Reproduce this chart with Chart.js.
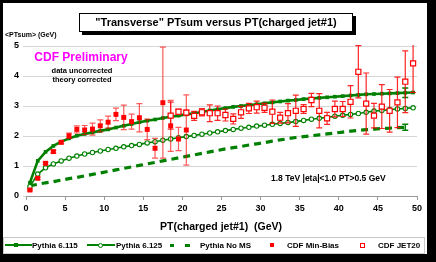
<!DOCTYPE html>
<html lang="en">

<head>
    <meta charset="UTF-8">
    <title>Transverse PTsum versus PT(charged jet#1)</title>
    <script src="https://cdn.jsdelivr.net/npm/chart.js"></script>
    <style>
        html, body { margin: 0; padding: 0; background: #000; }
        body { width: 436px; height: 262px; position: relative; overflow: hidden;
               font-family: "Liberation Sans", Arial, sans-serif; font-weight: bold; }
        .paper { position: absolute; left: 3px; top: 3px; width: 424px; height: 251px; background: #fff; }
        canvas { position: absolute; left: 0; top: 0; }
        .txt { position: absolute; white-space: nowrap; transform: translateY(-50%); line-height: 1; }
        .ctr { transform: translate(-50%, -50%); }
        .title-box { position: absolute; left: 79px; top: 13px; width: 272px; height: 17px;
                     border: 1px solid #000; background: #fff; box-shadow: 3px 3px 0 #000;
                     font-size: 11px; line-height: 17px; text-align: center; }
        .legend { position: absolute; left: 3px; top: 237px; width: 420px; height: 15px; border: 1px solid #c8c8c8; }
        .sym { position: absolute; box-sizing: border-box; }
    </style>
</head>

<body>
    <div class="paper"></div>
    <canvas id="ptChart" width="436" height="262"></canvas>

    <div class="title-box">"Transverse" PTsum versus PT(charged jet#1)</div>
    <div class="txt" style="left:5px;top:34px;font-size:7px;">&lt;PTsum&gt; (GeV)</div>
    <div class="txt ctr" style="left:81px;top:57px;font-size:12px;color:#ff00ff;">CDF Preliminary</div>
    <div class="txt ctr" style="left:82px;top:71px;font-size:7.5px;">data uncorrected</div>
    <div class="txt ctr" style="left:82px;top:80px;font-size:7.5px;">theory corrected</div>
    <div class="txt" style="left:271px;top:178px;font-size:8.5px;">1.8 TeV |eta|&lt;1.0 PT&gt;0.5 GeV</div>
    <div class="txt ctr" style="left:221px;top:226px;font-size:10.5px;">PT(charged jet#1)&nbsp;&nbsp;(GeV)</div>

    <div class="legend"></div>
    <!-- legend symbols -->
    <div class="sym" style="left:5px;top:244px;width:27px;height:2px;background:#008000;"></div>
    <div class="sym" style="left:14px;top:243px;width:4px;height:4px;background:#008000;"></div>
    <div class="sym" style="left:87px;top:244px;width:28px;height:1.5px;background:#008000;"></div>
    <div class="sym" style="left:98px;top:242.5px;width:5px;height:5px;border:1.2px solid #008000;border-radius:50%;background:#fff;"></div>
    <div class="sym" style="left:170px;top:243.5px;width:4px;height:3px;background:#008000;"></div>
    <div class="sym" style="left:185px;top:243.5px;width:5px;height:3px;background:#008000;"></div>
    <div class="sym" style="left:270px;top:243px;width:4px;height:4px;background:#ff0000;"></div>
    <div class="sym" style="left:360px;top:242.5px;width:5px;height:5px;border:1.2px solid #ff0000;background:#fff;"></div>
    <div class="txt" style="left:32px;top:245.5px;font-size:8px;">Pythia 6.115</div>
    <div class="txt" style="left:116px;top:245.5px;font-size:8px;">Pythia 6.125</div>
    <div class="txt" style="left:200px;top:245.5px;font-size:8px;">Pythia No MS</div>
    <div class="txt" style="left:287px;top:245.5px;font-size:8px;">CDF Min-Bias</div>
    <div class="txt" style="left:378px;top:245.5px;font-size:8px;">CDF JET20</div>

    <script>
        // bin centres of PT(charged jet#1), GeV
        const ptBins = [0.5, 1.5, 2.5, 3.5, 4.5, 5.5, 6.5, 7.5, 8.5, 9.5,
            10.5, 11.5, 12.5, 13.5, 14.5, 15.5, 16.5, 17.5, 18.5, 19.5,
            20.5, 21.5, 22.5, 23.5, 24.5, 25.5, 26.5, 27.5, 28.5, 29.5,
            30.5, 31.5, 32.5, 33.5, 34.5, 35.5, 36.5, 37.5, 38.5, 39.5,
            40.5, 41.5, 42.5, 43.5, 44.5, 45.5, 46.5, 47.5, 48.5, 49.5];

        const pythia6115 = [0.44, 1.17, 1.47, 1.67, 1.81, 1.92, 2.01, 2.07, 2.12, 2.17,
            2.22, 2.28, 2.34, 2.40, 2.46, 2.51, 2.55, 2.60, 2.64, 2.68,
            2.72, 2.76, 2.80, 2.85, 2.89, 2.93, 2.97, 3.00, 3.03, 3.06,
            3.09, 3.12, 3.15, 3.18, 3.20, 3.23, 3.25, 3.27, 3.29, 3.31,
            3.33, 3.35, 3.37, 3.39, 3.40, 3.41, 3.42, 3.43, 3.44, 3.45];

        const pythia6125 = [0.31, 0.73, 0.94, 1.07, 1.17, 1.26, 1.33, 1.40, 1.45, 1.50,
            1.55, 1.59, 1.64, 1.68, 1.72, 1.77, 1.81, 1.86, 1.90, 1.94,
            1.98, 2.02, 2.06, 2.10, 2.14, 2.18, 2.22, 2.26, 2.29, 2.33,
            2.36, 2.39, 2.42, 2.45, 2.48, 2.52, 2.56, 2.59, 2.62, 2.66,
            2.69, 2.72, 2.75, 2.79, 2.83, 2.85, 2.88, 2.90, 2.92, 2.94];

        // no multiple scattering, stops at 48.5
        const pythiaNoMS = [0.34, 0.39, 0.44, 0.48, 0.53, 0.58, 0.62, 0.67, 0.72, 0.77,
            0.82, 0.87, 0.92, 0.97, 1.02, 1.07, 1.12, 1.17, 1.22, 1.27,
            1.32, 1.37, 1.42, 1.47, 1.52, 1.57, 1.61, 1.65, 1.70, 1.74,
            1.78, 1.83, 1.87, 1.91, 1.95, 1.98, 2.01, 2.04, 2.07, 2.10,
            2.13, 2.16, 2.19, 2.21, 2.23, 2.25, 2.26, 2.28, 2.29];

        // theory error bar shown on the last bin only
        const theoryErrBin = 48.5;
        const pythia6115Err = 0.16;
        const pythiaNoMSErr = 0.10;

        // CDF min-bias: bins 0.5 .. 20.5
        const minBias = [0.20, 0.59, 1.09, 1.48, 1.79, 2.01, 2.22, 2.20, 2.23, 2.34,
            2.46, 2.72, 2.62, 2.48, 2.61, 2.22, 1.59, 3.11, 2.34, 1.90, 2.20];
        const minBiasErr = [0.03, 0.04, 0.04, 0.05, 0.05, 0.09, 0.12, 0.15, 0.20, 0.20,
            0.20, 0.21, 0.41, 0.25, 0.47, 0.34, 0.33, 1.85, 0.85, 0.39, 1.17];

        // CDF JET20: bins 18.5 .. 49.5
        const jet20 = [2.68, 2.81, 2.78, 2.67, 2.79, 2.76, 2.76, 2.70, 2.57, 2.79,
            2.92, 2.96, 2.94, 2.81, 2.61, 2.76, 2.84, 2.90, 3.20, 2.84,
            2.59, 2.90, 2.90, 3.14, 4.14, 3.08, 2.68, 2.98, 2.84, 3.12, 3.81, 4.42];
        const jet20Err = [0.45, 0.08, 0.08, 0.15, 0.12, 0.28, 0.24, 0.20, 0.17, 0.20,
            0.17, 0.20, 0.15, 0.39, 0.18, 0.32, 0.52, 0.15, 0.22, 0.57,
            0.20, 0.26, 0.25, 0.54, 0.87, 1.02, 0.41, 0.73, 0.71, 0.84, 1.03, 0.97];

        const xTicks = [0, 5, 10, 15, 20, 25, 30, 35, 40, 45, 50];
        const yTicks = [0, 1, 2, 3, 4, 5];

        const GREEN = '#008000';
        const RED = '#ff0000';

        function pairs(xs, ys) {
            return ys.map((y, i) => ({ x: xs[i], y: y }));
        }

        // vertical error bars with small caps, drawn just before each dataset's own markers
        const errorBars = {
            id: 'errorBars',
            beforeDatasetDraw(chart, args) {
                const ds = chart.data.datasets[args.index];
                if (!ds.errors) return;
                const ctx = chart.ctx;
                const xs = chart.scales.x, ys = chart.scales.y;
                const a = chart.chartArea;
                ctx.save();
                ctx.beginPath();
                ctx.rect(a.left, a.top - 1, a.right - a.left, a.bottom - a.top + 1);
                ctx.clip();
                ctx.strokeStyle = ds.errorColor;
                ctx.lineWidth = ds.errorWidth || 1.2;
                ds.data.forEach((p, i) => {
                    const e = ds.errors[i];
                    if (e == null) return;
                    const x = xs.getPixelForValue(p.x);
                    const y1 = ys.getPixelForValue(p.y + e);
                    const y2 = ys.getPixelForValue(p.y - e);
                    ctx.beginPath();
                    ctx.moveTo(x, y1); ctx.lineTo(x, y2);
                    ctx.moveTo(x - 3, y1); ctx.lineTo(x + 3, y1);
                    ctx.moveTo(x - 3, y2); ctx.lineTo(x + 3, y2);
                    ctx.stroke();
                });
                ctx.restore();
            }
        };

        const ctx = document.getElementById('ptChart').getContext('2d');
        new Chart(ctx, {
            type: 'line',
            data: {
                datasets: [{
                    label: 'CDF JET20',
                    data: pairs(ptBins.slice(18), jet20),
                    errors: jet20Err,
                    errorColor: 'rgba(255,0,0,0.85)',
                    showLine: false,
                    pointStyle: 'rect',
                    pointRadius: 3.6,
                    pointBorderWidth: 1.2,
                    pointBackgroundColor: '#fff',
                    pointBorderColor: RED,
                    order: 1
                }, {
                    label: 'CDF Min-Bias',
                    data: pairs(ptBins, minBias),
                    errors: minBiasErr,
                    errorColor: 'rgba(255,0,0,0.65)',
                    showLine: false,
                    pointStyle: 'rect',
                    pointRadius: 3.5,
                    pointBorderWidth: 0,
                    pointBackgroundColor: RED,
                    pointBorderColor: RED,
                    order: 2
                }, {
                    label: 'Pythia 6.115',
                    data: pairs(ptBins, pythia6115),
                    errors: ptBins.map(x => x === theoryErrBin ? pythia6115Err : null),
                    errorColor: GREEN,
                    errorWidth: 1.5,
                    borderColor: GREEN,
                    borderWidth: 2.6,
                    pointStyle: 'rect',
                    pointRadius: 2.6,
                    pointBorderWidth: 0,
                    pointBackgroundColor: GREEN,
                    order: 3
                }, {
                    label: 'Pythia 6.125',
                    data: pairs(ptBins, pythia6125),
                    borderColor: GREEN,
                    borderWidth: 1.6,
                    pointStyle: 'circle',
                    pointRadius: 2.2,
                    pointBorderWidth: 1.1,
                    pointBackgroundColor: '#fff',
                    pointBorderColor: GREEN,
                    order: 4
                }, {
                    label: 'Pythia No MS',
                    data: pairs(ptBins, pythiaNoMS),
                    errors: ptBins.map(x => x === theoryErrBin ? pythiaNoMSErr : null),
                    errorColor: GREEN,
                    errorWidth: 1.5,
                    borderColor: GREEN,
                    borderWidth: 3.2,
                    borderDash: [7, 5],
                    pointRadius: 0,
                    order: 5
                }]
            },
            options: {
                responsive: false,
                animation: false,
                layout: { padding: { left: 0, right: 19, top: 46, bottom: 0 } },
                plugins: {
                    legend: { display: false },
                    tooltip: { enabled: false }
                },
                scales: {
                    x: {
                        type: 'linear',
                        min: 0,
                        max: 50,
                        afterFit: s => { s.height = 66; },
                        afterBuildTicks: s => { s.ticks = xTicks.map(v => ({ value: v })); },
                        grid: { drawOnChartArea: false, drawTicks: true, tickLength: 4, color: '#999' },
                        border: { display: true, color: '#999' },
                        ticks: { color: '#000', font: { family: 'Liberation Sans', size: 9, weight: 'bold' }, padding: 3, maxRotation: 0 }
                    },
                    y: {
                        min: 0,
                        max: 5,
                        afterFit: s => { s.width = 26; },
                        afterBuildTicks: s => { s.ticks = yTicks.map(v => ({ value: v })); },
                        grid: { color: '#d6d6d6', drawTicks: true, tickLength: 3 },
                        border: { display: false },
                        ticks: { color: '#000', font: { family: 'Liberation Sans', size: 9, weight: 'bold' }, padding: 4 }
                    }
                }
            },
            plugins: [errorBars]
        });
    </script>
</body>

</html>
